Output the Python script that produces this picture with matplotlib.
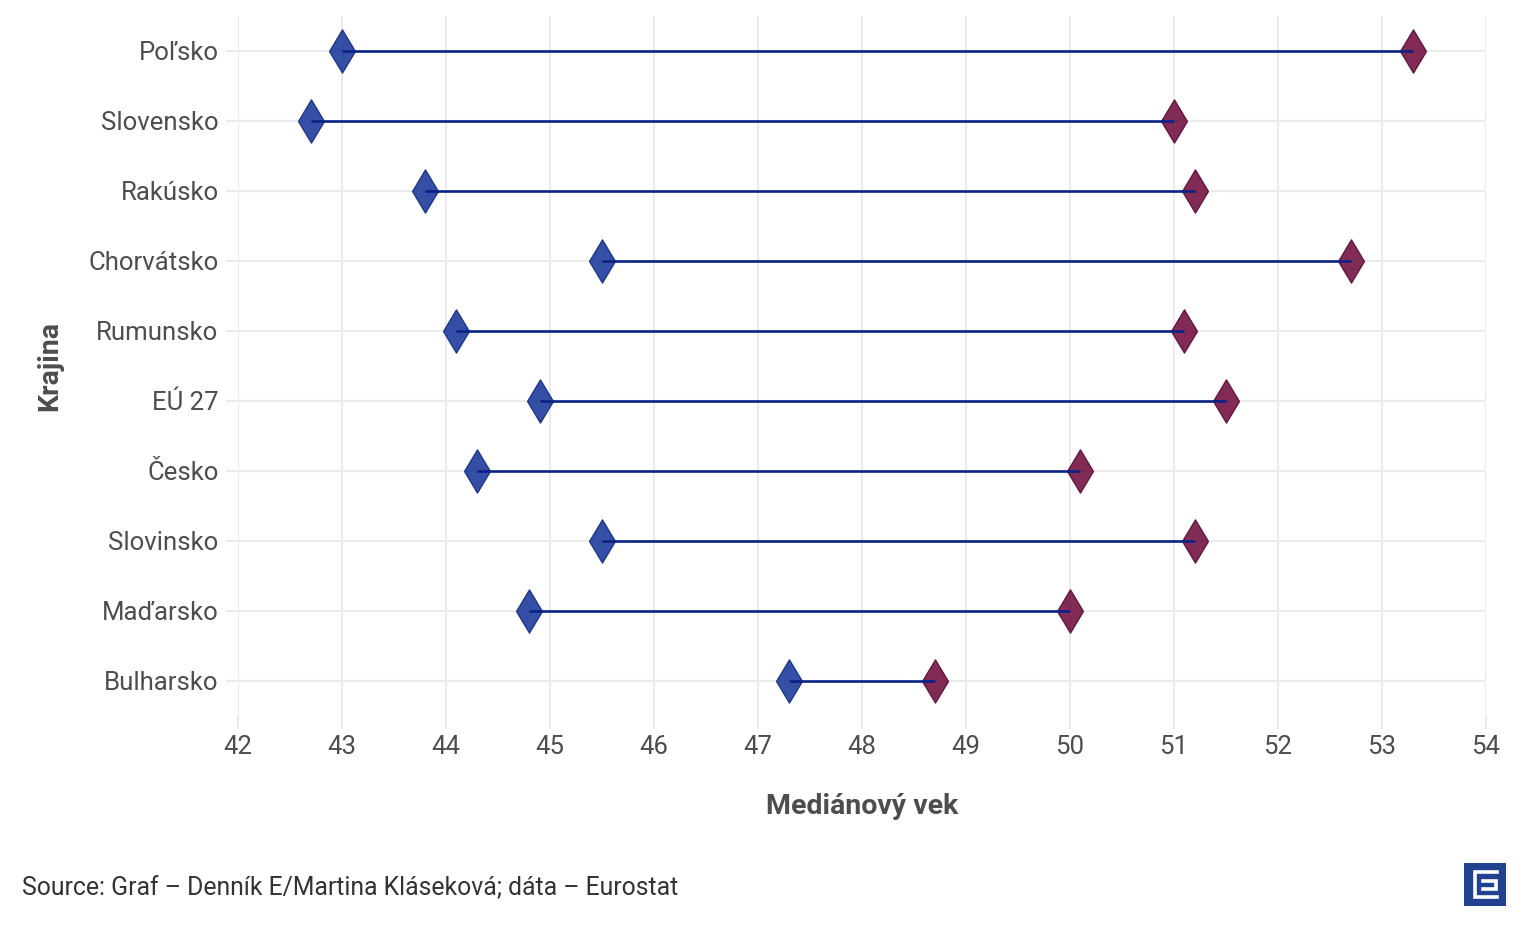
import matplotlib
matplotlib.use("Agg")
import matplotlib.pyplot as plt

# median age by country: earlier year (blue) vs later year (red)
countries = ["Poľsko", "Slovensko", "Rakúsko", "Chorvátsko", "Rumunsko",
             "EÚ 27", "Česko", "Slovinsko", "Maďarsko", "Bulharsko"]
start_age = [43.0, 42.7, 43.8, 45.5, 44.1, 44.9, 44.3, 45.5, 44.8, 47.3]
end_age = [53.3, 51.0, 51.2, 52.7, 51.1, 51.5, 50.1, 51.2, 50.0, 48.7]
x_ticks = list(range(42, 55))

plt.rcParams["font.family"] = ["Roboto", "DejaVu Sans"]

grey_text = "#4d4d4d"
grid_col = "#ebebeb"

fig = plt.figure(figsize=(15.26, 9.33), dpi=100)
ax = fig.add_axes([238 / 1526, 1 - 716 / 933, (1486 - 238) / 1526, (716 - 16) / 933])

ypos = list(range(len(countries)))

# connecting lines
for y, a, b in zip(ypos, start_age, end_age):
    ax.plot([a, b], [y, y], color="#0a2286", lw=1.9, zorder=3, solid_capstyle="butt")

ax.scatter(start_age, ypos, marker="d", s=22 ** 2, color="#1f3c9c", alpha=0.9,
           edgecolor="#16307f", linewidth=1, zorder=2)
ax.scatter(end_age, ypos, marker="d", s=22 ** 2, color="#741445", alpha=0.9,
           edgecolor="#5a0f36", linewidth=1, zorder=2)

ax.set_xlim(42, 54)
ax.set_ylim(len(countries) - 0.5, -0.5)
ax.set_xticks(x_ticks)
ax.set_yticks(ypos)
ax.set_yticklabels(countries)

ax.grid(True, color=grid_col, lw=1.5, zorder=0)
ax.set_axisbelow(True)
for s in ax.spines.values():
    s.set_visible(False)

ax.tick_params(axis="both", length=9, width=1.5, color=grid_col,
               labelsize=18.5, labelcolor=grey_text)
ax.tick_params(axis="y", pad=5)
ax.tick_params(axis="x", pad=5)

ax.set_xlabel("Mediánový vek", fontsize=20.5, fontweight="bold", color=grey_text, labelpad=24)
ax.set_ylabel("Krajina", fontsize=20.5, fontweight="bold", color=grey_text, labelpad=18)

fig.text(22 / 1526, 1 - 888 / 933, "Source: Graf – Denník E/Martina Kláseková; dáta – Eurostat",
         fontsize=17.8, color="#333333", ha="left", va="center")

# small logo in the corner
lax = fig.add_axes([1464 / 1526, 1 - 906 / 933, 42 / 1526, 43 / 933])
lax.set_xlim(0, 1)
lax.set_ylim(0, 1)
lax.axis("off")
lax.add_patch(plt.Rectangle((0, 0), 1, 1, color="#22418e"))
w = 2.6
lax.plot([0.79, 0.26, 0.26, 0.79], [0.80, 0.80, 0.20, 0.20], color="white", lw=w,
         solid_joinstyle="miter")
lax.plot([0.45, 0.76, 0.76, 0.45], [0.59, 0.59, 0.40, 0.40], color="white", lw=w,
         solid_joinstyle="miter")

fig.savefig("out.png", dpi=100, facecolor="white")
